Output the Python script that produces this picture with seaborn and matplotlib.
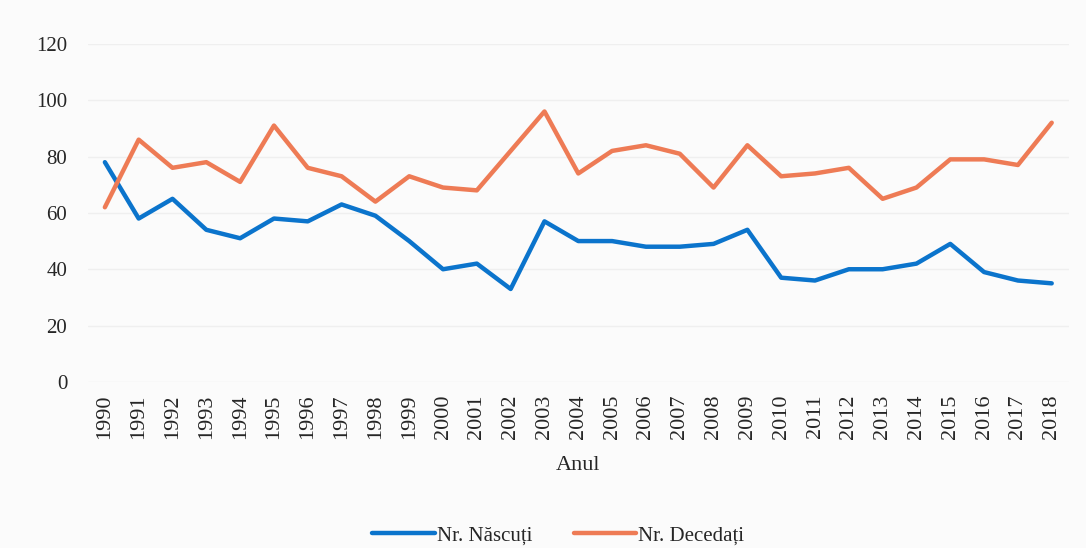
import numpy as np
import pandas as pd
import matplotlib
matplotlib.use('Agg')
import matplotlib.pyplot as plt
import seaborn as sns

years = list(range(1990, 2019))
nascuti = [78, 58, 65, 54, 51, 58, 57, 63, 59, 50, 40, 42, 33, 57, 50,
           50, 48, 48, 49, 54, 37, 36, 40, 40, 42, 49, 39, 36, 35]
decedati = [62, 86, 76, 78, 71, 91, 76, 73, 64, 73, 69, 68, 82, 96, 74,
            82, 84, 81, 69, 84, 73, 74, 76, 65, 69, 79, 79, 77, 92]
series_names = ['Nr. Născuți', 'Nr. Decedați']

BLUE, ORANGE = '#0B74CC', '#EE7B55'
BG = '#FBFBFB'

sns.set_style('white')
plt.rcParams['font.family'] = ['Liberation Serif', 'DejaVu Serif']

df = pd.DataFrame({'Anul': years, series_names[0]: nascuti, series_names[1]: decedati})
long = df.melt(id_vars='Anul', var_name='serie', value_name='valoare')

fig = plt.figure(figsize=(10.86, 5.48), dpi=100, facecolor=BG)
ax = fig.add_axes([0.081, 0.303, 0.903, 0.617], facecolor=BG)

sns.lineplot(data=long, x='Anul', y='valoare', hue='serie', palette=[BLUE, ORANGE],
             linewidth=3.2, ax=ax, legend=True)

ax.set_ylim(0, 120)
ax.set_yticks(range(0, 121, 20))
ax.set_xlim(1989.5, 2018.5)
ax.set_xticks(years)
ax.set_xticklabels([str(y) for y in years], rotation=90, fontsize=16)
ax.tick_params(axis='y', labelsize=15, length=0, pad=15)
ax.tick_params(axis='x', length=0, pad=9)
ax.yaxis.grid(True, color='#EFEFEF', linewidth=1)
ax.set_axisbelow(True)
for s in ax.spines.values():
    s.set_visible(False)

ax.set_xlabel('Anul', fontsize=16, labelpad=12)
ax.set_ylabel('')

handles, labels = ax.get_legend_handles_labels()
ax.get_legend().remove()
fig.legend(handles, labels, loc='center', bbox_to_anchor=(0.514, 0.022),
           ncol=2, frameon=False, fontsize=15, handlelength=3.0, columnspacing=2.0,
           handletextpad=0.1, borderpad=0)

fig.savefig('out.png', dpi=100, facecolor=BG)
